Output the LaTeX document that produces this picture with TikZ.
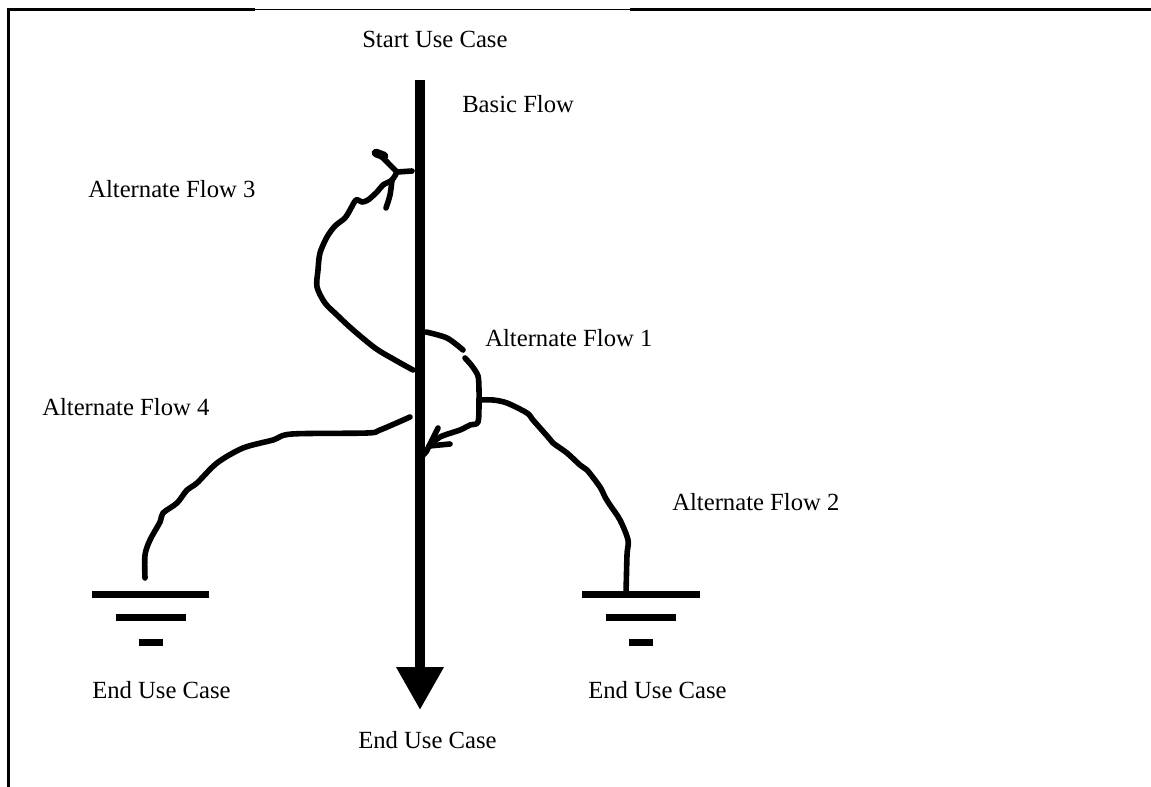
\documentclass[tikz,border=0pt]{standalone}
\usepackage{fontspec}
\setmainfont{Liberation Serif}
\usetikzlibrary{arrows.meta}
\begin{document}
\begin{tikzpicture}[x=0.75pt,y=-0.75pt,
  lbl/.style={anchor=base west,inner sep=0pt,font=\fontsize{18.5}{22}\selectfont},
  flow/.style={line width=4.2pt,line cap=round,line join=round},
  gnd/.style={line width=5.25pt},
  frame/.style={line width=2.25pt},
  thinframe/.style={line width=0.75pt}]
\useasboundingbox (0,0) rectangle (1151,787);
% frame
\coordinate (fTL) at (8,10);
\coordinate (fA) at (255,10);
\coordinate (fB) at (630,10);
\coordinate (fTR) at (1151,10);
\coordinate (fBL) at (8,787);
\draw[frame] (fBL) -- (fTL) -- (fA);
\draw[thinframe] (fA) -- (fB);
\draw[frame] (fB) -- (fTR);
% texts
\node[lbl] (start) at (362,48) {Start Use Case};
\node[lbl] (basic) at (462,113) {Basic Flow};
\node[lbl] (af3) at (88,198) {Alternate Flow 3};
\node[lbl] (af1) at (485,347) {Alternate Flow 1};
\node[lbl] (af4) at (42,415) {Alternate Flow 4};
\node[lbl] (af2) at (672,510) {Alternate Flow 2};
\node[lbl] (endL) at (92,698) {End Use Case};
\node[lbl] (endR) at (588,698) {End Use Case};
\node[lbl] (endB) at (358,748) {End Use Case};
% main flow
\coordinate (bTop) at (420,80);
\coordinate (bTip) at (420,710);
\draw[line width=7.5pt,-{Triangle[length=32.25pt,width=33.75pt]}] (bTop) -- (bTip);
% ground symbols
\coordinate (gL) at (150.5,594);
\coordinate (gR) at (641,594);
\foreach \g in {gL,gR}{
  \draw[gnd] ([xshift=-43.9pt]\g) -- ([xshift=43.9pt]\g);
  \draw[gnd] ([xshift=-26.25pt,yshift=-17.25pt]\g) -- ([xshift=26.25pt,yshift=-17.25pt]\g);
  \draw[gnd] ([xshift=-9pt,yshift=-36pt]\g) -- ([xshift=9pt,yshift=-36pt]\g);
}
% alternate flow 3
\coordinate (a3s) at (413,370);
\draw[flow] plot[smooth,tension=0.5] coordinates {(a3s) (395,360) (375,348) (352,329) (337,315) (325,303) (317,287) (318,270) (320,253) (327,237) (335,226) (345,218) (350,210) (356,200) (362,202) (368,200) (377,192) (383,185) (392,180) (397,172)};
\draw[flow] (397,172) -- (412,171);
\draw[flow] plot[smooth,tension=0.5] coordinates {(397,172) (390,165) (383,158) (377,153)};
\draw[line width=6.5pt,line cap=round] (376,153) -- (384,156);
\draw[flow] plot[smooth,tension=0.5] coordinates {(392,180) (390,195) (386,208)};
% alternate flow 1
\coordinate (a1s) at (426,332);
\coordinate (j12) at (479,400);
\draw[flow] plot[smooth,tension=0.5] coordinates {(a1s) (447,338) (463,350)};
\draw[flow] plot[smooth,tension=0.5] coordinates {(465,358) (472,366) (478,376) (479,390) (j12) (478,422) (470,425) (460,430) (440,437) (430,446)};
\draw[flow] (438,428) -- (429,446) -- (450,444);
\draw[flow] plot[smooth,tension=0.5] coordinates {(429,446) (426,452) (422,456)};
% alternate flow 2
\coordinate (a2e) at (626,594);
\draw[flow] plot[smooth,tension=0.5] coordinates {(j12) (493,400) (507,403) (527,413) (533,420) (548,437) (553,443) (567,453) (580,465) (587,470) (600,487) (605,497) (610,505) (620,520) (628,540) (627,555) (a2e)};
% alternate flow 4
\coordinate (a4s) at (410,417);
\coordinate (a4e) at (145,578);
\draw[flow] plot[smooth,tension=0.5] coordinates {(a4s) (380,430) (367,433) (292,434) (273,440) (243,448) (217,463) (197,483) (187,490) (177,503) (163,513) (160,522) (150,540) (145,555) (a4e)};
\end{tikzpicture}
\end{document}
